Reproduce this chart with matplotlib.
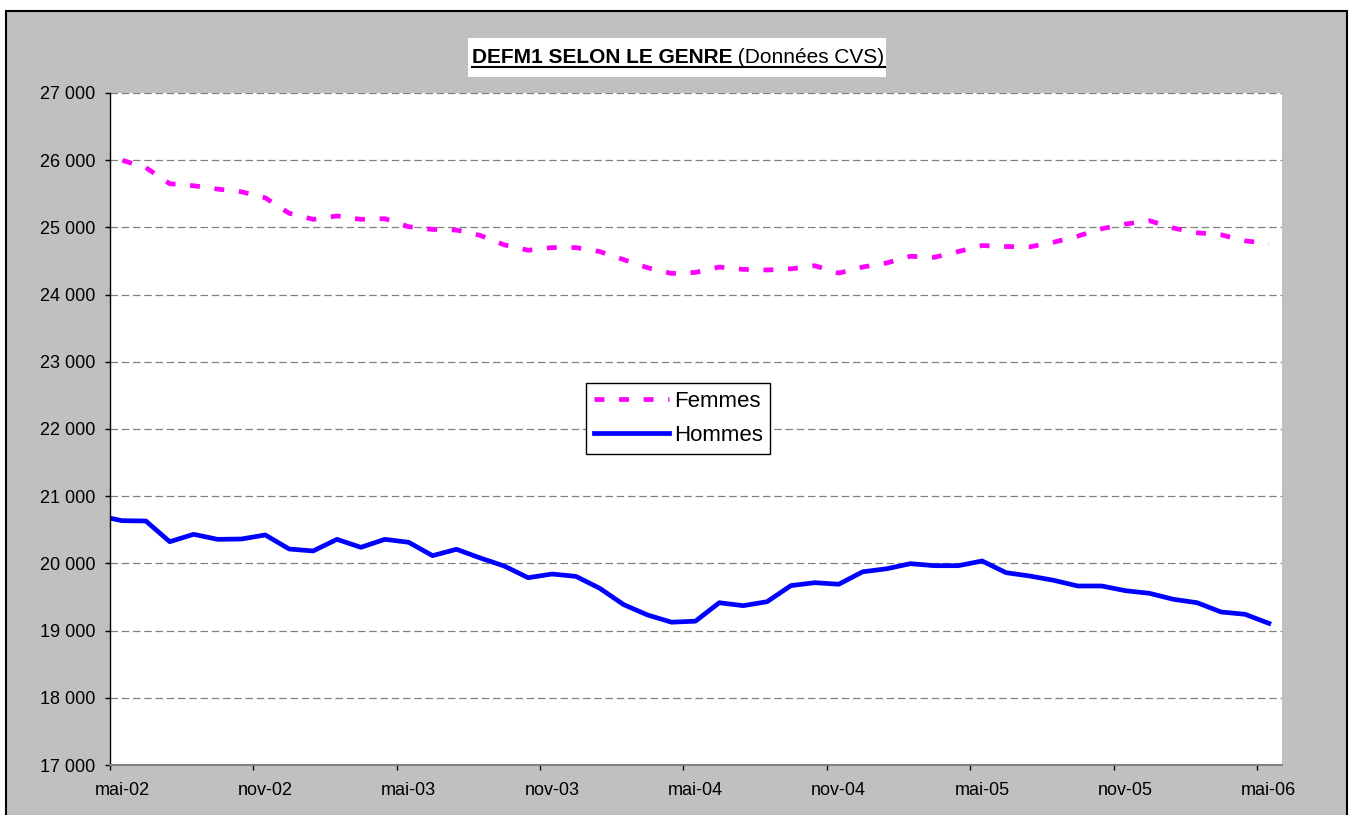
import numpy as np
import matplotlib.pyplot as plt
from matplotlib.patches import Rectangle
from matplotlib.lines import Line2D
from matplotlib.ticker import FixedLocator, FuncFormatter, NullFormatter

plt.rcParams['font.family'] = ['Liberation Sans', 'DejaVu Sans']

# valeurs mensuelles CVS, avr-02 .. mai-06
femmes = [26030, 26000, 25890, 25650, 25620, 25570, 25530, 25440, 25210, 25120,
          25170, 25120, 25130, 25010, 24970, 24960, 24880, 24740, 24660, 24700,
          24700, 24640, 24520, 24400, 24315, 24330, 24410, 24375, 24366, 24384,
          24430, 24320, 24410, 24470, 24570, 24555, 24640, 24730, 24715, 24711,
          24780, 24870, 24980, 25050, 25100, 24990, 24920, 24890, 24800, 24760]
hommes = [20710, 20636, 20631, 20323, 20433, 20358, 20363, 20423, 20214, 20185,
          20358, 20239, 20358, 20314, 20115, 20210, 20080, 19961, 19787, 19842,
          19807, 19629, 19386, 19232, 19125, 19140, 19415, 19371, 19430, 19670,
          19713, 19690, 19875, 19920, 19996, 19966, 19966, 20036, 19862, 19812,
          19748, 19664, 19664, 19594, 19555, 19466, 19415, 19277, 19243, 19108]
labels_x = ['mai-02', 'nov-02', 'mai-03', 'nov-03', 'mai-04',
            'nov-04', 'mai-05', 'nov-05', 'mai-06']

W, H = 1353, 815
x = np.arange(len(hommes)) - 1   # mois depuis mai-02 (avr-02 = -1)

fig = plt.figure(figsize=(W / 100, H / 100), dpi=100)
fig.patch.set_facecolor('white')
fig.add_artist(Rectangle((6 / W, -0.05), 1341 / W, 1 - 11 / H + 0.05,
                         transform=fig.transFigure, facecolor='#C0C0C0',
                         edgecolor='black', linewidth=1.5, zorder=0))

ax = fig.add_axes([110 / W, 50 / H, 1172 / W, 672 / H])
ax.set_facecolor('white')

ax.plot(x, femmes, color='#FF00FF', linewidth=3.4, linestyle=(0, (2.1, 3.1)),
        dash_capstyle='butt', label='Femmes')
ax.plot(x, hommes, color='#0000FF', linewidth=3.4, solid_joinstyle='round',
        label='Hommes')

ax.set_xlim(-0.5, 48.55)
ax.set_ylim(17000, 27000)

ax.set_yticks(range(17000, 27001, 1000))
ax.yaxis.set_major_formatter(FuncFormatter(lambda v, p: f"{v:,.0f}".replace(",", " ")))
ax.yaxis.grid(True, color='#808080', linestyle=(0, (6, 3)), linewidth=0.9)
ax.set_axisbelow(True)

ax.xaxis.set_major_locator(FixedLocator(np.arange(-0.5, 48, 6)))
ax.xaxis.set_major_formatter(NullFormatter())
ax.xaxis.set_minor_locator(FixedLocator(np.arange(0, 49, 6)))
ax.xaxis.set_minor_formatter(FuncFormatter(lambda v, p: labels_x[int(round(v)) // 6]))

ax.tick_params(axis='y', direction='out', length=3.8, width=1, labelsize=13, pad=7)
ax.tick_params(axis='x', which='major', direction='out', length=3.8, width=1, color='black')
ax.tick_params(axis='x', which='minor', length=0, labelsize=13, pad=12)

for s in ['top', 'right']:
    ax.spines[s].set_visible(False)
ax.spines['left'].set_color('black')
ax.spines['left'].set_linewidth(1)
ax.spines['bottom'].set_color('#808080')
ax.spines['bottom'].set_linewidth(1.5)

leg = ax.legend(loc='upper left', bbox_to_anchor=(586 / W, 1 - 383 / H),
                bbox_transform=fig.transFigure, fontsize=16, frameon=True,
                fancybox=False, edgecolor='black', framealpha=1,
                borderaxespad=0, borderpad=0.35, handlelength=3.4,
                handletextpad=0.2, labelspacing=0.6)
leg.get_frame().set_linewidth(1)

# titre dans un cadre blanc, souligné
fig.add_artist(Rectangle((468 / W, 1 - 77 / H), 418 / W, 39 / H,
                         transform=fig.transFigure, facecolor='white',
                         edgecolor='none', zorder=1))
base = 1 - 63 / H
t1 = fig.text(472 / W, base, "DEFM1 SELON LE GENRE", fontsize=15,
              fontweight='bold', ha='left', va='baseline', zorder=2)
fig.canvas.draw()
r = fig.canvas.get_renderer()
bb = t1.get_window_extent(r)
t2 = fig.text(bb.x1 / W, base, " (Données CVS)", fontsize=15,
              ha='left', va='baseline', zorder=2)
bb2 = t2.get_window_extent(r)
fig.add_artist(Line2D([bb.x0 / W, bb2.x1 / W], [1 - 67 / H] * 2,
                      transform=fig.transFigure, color='black', linewidth=1.5,
                      zorder=2))

fig.savefig('out.png', dpi=100)
